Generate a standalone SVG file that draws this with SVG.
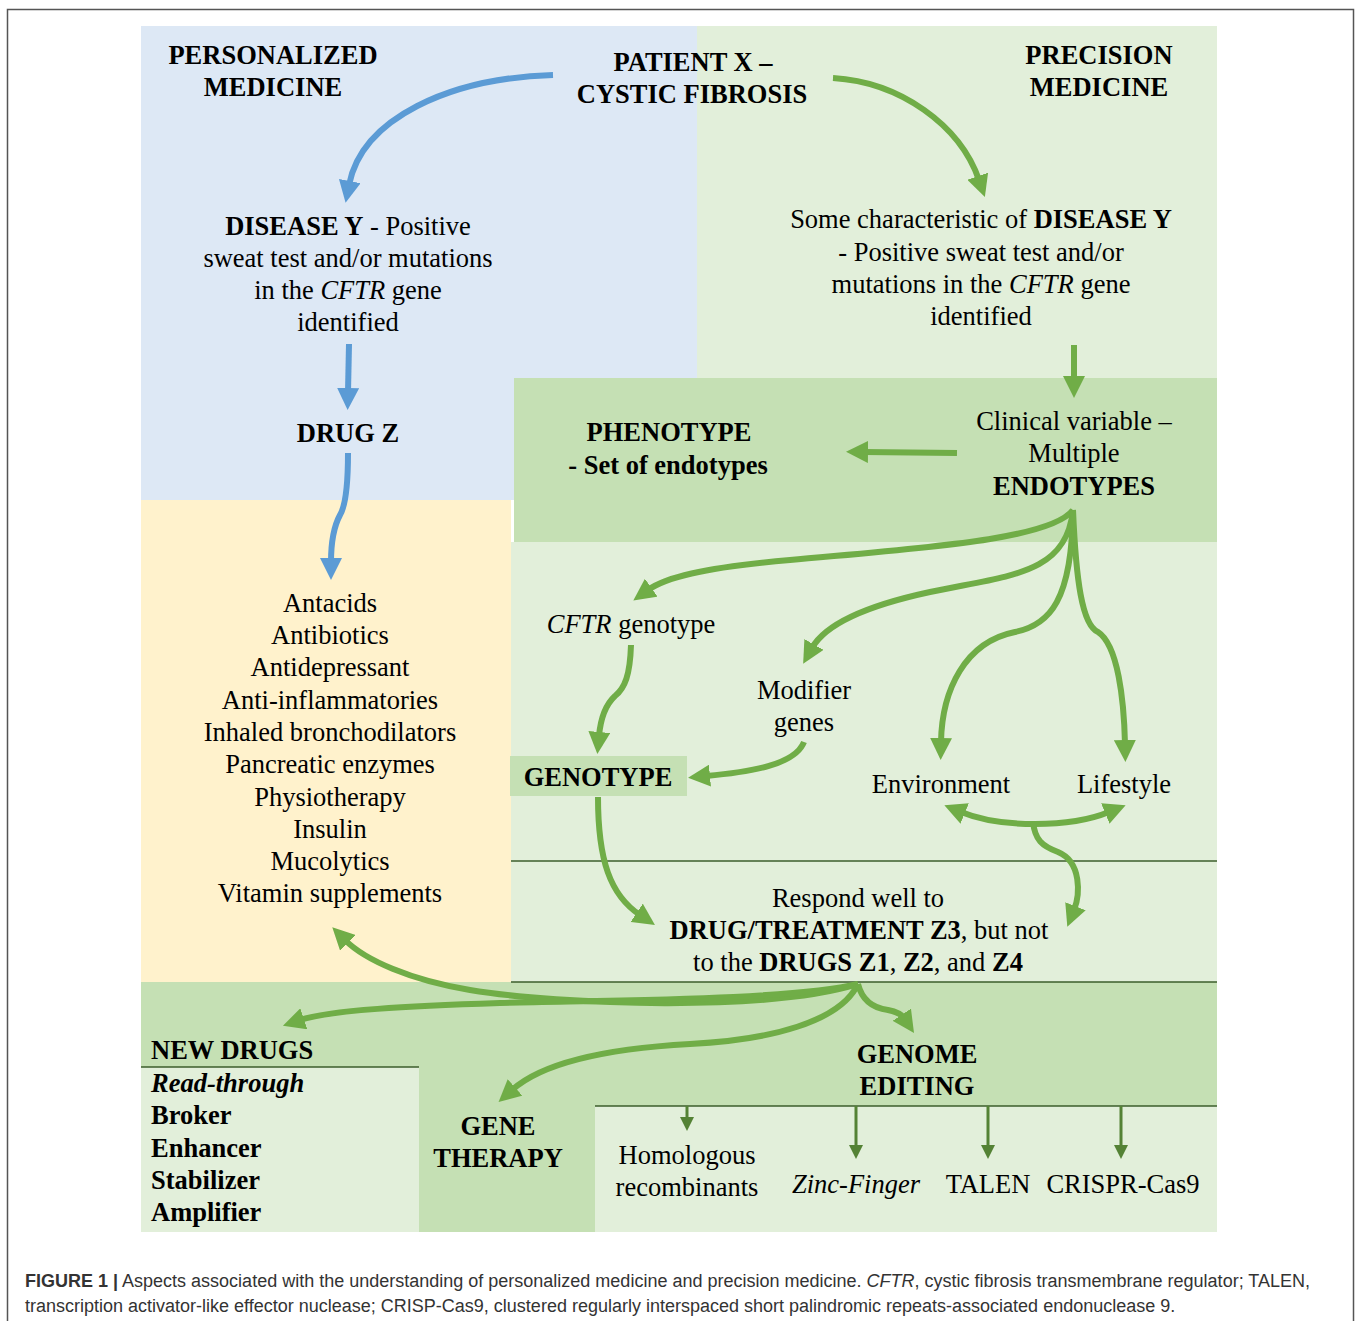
<svg xmlns="http://www.w3.org/2000/svg" width="1357" height="1321" viewBox="0 0 1357 1321">
<defs>
<style>
text{font-family:"Liberation Serif","Times New Roman",serif;font-size:26.5px;fill:#000}
.c{text-anchor:middle}
.b{font-weight:bold}
.i{font-style:italic}
.cap{font-family:"Liberation Sans",Arial,sans-serif;font-size:18px;fill:#333}
.blue{fill:none;stroke:#5B9BD5;stroke-width:6}
.grn{fill:none;stroke:#70AD47;stroke-width:6}
.grn2{fill:none;stroke:#548235;stroke-width:3}
.sep{stroke:#3B5E2B;stroke-width:1.5}
</style>
<marker id="ab" viewBox="0 0 22 22" markerUnits="userSpaceOnUse" markerWidth="22" markerHeight="22" refX="4" refY="11" orient="auto"><path d="M0,0 L22,11 L0,22 z" fill="#5B9BD5"/></marker>
<marker id="ag" viewBox="0 0 22 22" markerUnits="userSpaceOnUse" markerWidth="22" markerHeight="22" refX="4" refY="11" orient="auto-start-reverse"><path d="M0,0 L22,11 L0,22 z" fill="#70AD47"/></marker>
<marker id="ad" viewBox="0 0 14 14" markerUnits="userSpaceOnUse" markerWidth="14" markerHeight="14" refX="2" refY="7" orient="auto"><path d="M0,0 L14,7 L0,14 z" fill="#548235"/></marker>
</defs>
<rect x="0" y="0" width="1357" height="1321" fill="#fff"/>
<rect x="7.5" y="9.5" width="1346" height="1340" fill="none" stroke="#555" stroke-width="1.5"/>

<g id="panels">
<rect x="141" y="26" width="556" height="474" fill="#DDE8F5"/>
<rect x="697" y="26" width="520" height="352" fill="#E2EFDA"/>
<rect x="514" y="378" width="703" height="164" fill="#C5E0B4"/>
<rect x="511" y="542" width="706" height="440" fill="#E2EFDA"/>
<rect x="141" y="500" width="370" height="482" fill="#FFF2CC"/>
<rect x="141" y="982" width="1076" height="250" fill="#C5E0B4"/>
<rect x="141" y="1067" width="278" height="165" fill="#E2EFDA"/>
<rect x="595" y="1106" width="622" height="126" fill="#E2EFDA"/>
<line class="sep" x1="511" y1="861" x2="1217" y2="861"/>
<line class="sep" x1="511" y1="982" x2="1217" y2="982"/>
<line class="sep" x1="141" y1="1067" x2="419" y2="1067"/>
<line class="sep" x1="595" y1="1106" x2="1217" y2="1106"/>
</g>

<g id="n-personalized"><text class="c b" x="273" y="64">PERSONALIZED</text><text class="c b" x="273" y="96">MEDICINE</text></g>
<g id="n-patient"><text class="c b" x="693" y="71">PATIENT X –</text><text class="c b" x="692" y="103">CYSTIC FIBROSIS</text></g>
<g id="n-precision"><text class="c b" x="1099" y="64">PRECISION</text><text class="c b" x="1099" y="96">MEDICINE</text></g>
<g id="n-disease-left">
<text class="c" x="348" y="235"><tspan class="b">DISEASE Y</tspan> - Positive</text>
<text class="c" x="348" y="267">sweat test and/or mutations</text>
<text class="c" x="348" y="299">in the <tspan class="i">CFTR</tspan> gene</text>
<text class="c" x="348" y="331">identified</text>
</g>
<g id="n-disease-right">
<text class="c" x="981" y="228">Some characteristic of <tspan class="b">DISEASE Y</tspan></text>
<text class="c" x="981" y="261">- Positive sweat test and/or</text>
<text class="c" x="981" y="293">mutations  in the <tspan class="i">CFTR</tspan> gene</text>
<text class="c" x="981" y="325">identified</text>
</g>
<g id="n-drugz"><text class="c b" x="348" y="442">DRUG Z</text></g>
<g id="n-phenotype"><text class="c b" x="669" y="441">PHENOTYPE</text><text class="c b" x="668" y="474">- Set of endotypes</text></g>
<g id="n-endotypes"><text class="c" x="1074" y="430">Clinical variable –</text><text class="c" x="1074" y="462">Multiple</text><text class="c b" x="1074" y="495">ENDOTYPES</text></g>
<g id="n-cftr"><text class="c" x="631" y="633"><tspan class="i">CFTR</tspan> genotype</text></g>
<g id="n-modifier"><text class="c" x="804" y="699">Modifier</text><text class="c" x="804" y="731">genes</text></g>
<g id="n-genotype"><rect x="510" y="756" width="177" height="40" fill="#C5E0B4"/><text class="c b" x="598" y="786">GENOTYPE</text></g>
<g id="n-environment"><text class="c" x="941" y="793">Environment</text></g>
<g id="n-lifestyle"><text class="c" x="1124" y="793">Lifestyle</text></g>
<g id="n-respond">
<text class="c" x="858" y="907">Respond well to</text>
<text class="c" x="859" y="939"><tspan class="b">DRUG/TREATMENT Z3</tspan>, but not</text>
<text class="c" x="858" y="971">to the <tspan class="b">DRUGS Z1</tspan>, <tspan class="b">Z2</tspan>, and <tspan class="b">Z4</tspan></text>
</g>
<g id="n-treatments">
<text class="c" x="330" y="612">Antacids</text>
<text class="c" x="330" y="644">Antibiotics</text>
<text class="c" x="330" y="676">Antidepressant</text>
<text class="c" x="330" y="709">Anti-inflammatories</text>
<text class="c" x="330" y="741">Inhaled bronchodilators</text>
<text class="c" x="330" y="773">Pancreatic enzymes</text>
<text class="c" x="330" y="806">Physiotherapy</text>
<text class="c" x="330" y="838">Insulin</text>
<text class="c" x="330" y="870">Mucolytics</text>
<text class="c" x="330" y="902">Vitamin supplements</text>
</g>
<g id="n-newdrugs">
<text class="b" x="151" y="1059">NEW DRUGS</text>
<text class="b i" x="151" y="1092">Read-through</text>
<text class="b" x="151" y="1124">Broker</text>
<text class="b" x="151" y="1157">Enhancer</text>
<text class="b" x="151" y="1189">Stabilizer</text>
<text class="b" x="151" y="1221">Amplifier</text>
</g>
<g id="n-genetherapy"><text class="c b" x="498" y="1135">GENE</text><text class="c b" x="498" y="1167">THERAPY</text></g>
<g id="n-genome"><text class="c b" x="917" y="1063">GENOME</text><text class="c b" x="917" y="1095">EDITING</text></g>
<g id="n-homologous"><text class="c" x="687" y="1164">Homologous</text><text class="c" x="687" y="1196">recombinants</text></g>
<g id="n-zinc"><text class="c i" x="856" y="1193">Zinc-Finger</text></g>
<g id="n-talen"><text class="c" x="988" y="1193">TALEN</text></g>
<g id="n-crispr"><text class="c" x="1123" y="1193">CRISPR-Cas9</text></g>

<g id="connectors">
<path class="blue" marker-end="url(#ab)" d="M553,75 C450,78 362,118 349,185"/>
<path class="blue" marker-end="url(#ab)" d="M349,344 L348,392"/>
<path class="blue" marker-end="url(#ab)" d="M348,453 C348,480 346,505 340,515 C333,528 331,545 331,562"/>
<path class="grn" marker-end="url(#ag)" d="M833,78 C900,82 960,125 979,180"/>
<path class="grn" marker-end="url(#ag)" d="M1074,345 L1074,380"/>
<path class="grn" marker-end="url(#ag)" d="M957,453 L864,452"/>
<path class="grn" marker-end="url(#ag)" d="M1073,510 C1050,540 920,548 790,560 C700,568 665,578 648,590"/>
<path class="grn" marker-end="url(#ag)" d="M1073,510 C1066,575 1010,575 930,592 C865,606 825,625 812,648"/>
<path class="grn" marker-end="url(#ag)" d="M1073,510 C1072,600 1050,625 1015,632 C965,642 942,690 941,742"/>
<path class="grn" marker-end="url(#ag)" d="M1073,510 C1076,580 1082,625 1098,632 C1118,645 1124,700 1125,744"/>
<path class="grn" marker-end="url(#ag)" d="M631,645 C630,675 625,688 615,696 C603,707 600,725 599,736"/>
<path class="grn" marker-end="url(#ag)" d="M804,742 C795,765 750,772 706,776"/>
<path class="grn" marker-end="url(#ag)" d="M598,797 C598,860 610,895 640,915"/>
<path class="grn" marker-start="url(#ag)" marker-end="url(#ag)" d="M961,812 C1000,828 1070,828 1109,812"/>
<path class="grn" marker-end="url(#ag)" d="M1033,822 C1035,840 1042,846 1058,852 C1082,862 1080,895 1074,910"/>
<path class="grn" marker-end="url(#ag)" d="M858,984 C770,1012 560,1005 470,990 C410,980 365,960 345,940"/>
<path class="grn" marker-end="url(#ag)" d="M858,984 C790,1000 620,1000 500,1003 C410,1006 330,1010 300,1020"/>
<path class="grn" marker-end="url(#ag)" d="M858,984 C840,1022 770,1040 690,1044 C600,1049 540,1065 512,1090"/>
<path class="grn" marker-end="url(#ag)" d="M858,984 C862,1000 872,1008 888,1010 C898,1012 902,1015 904,1018"/>
<path class="grn2" marker-end="url(#ad)" d="M687,1106 L687,1119"/>
<path class="grn2" marker-end="url(#ad)" d="M856,1106 L856,1147"/>
<path class="grn2" marker-end="url(#ad)" d="M988,1106 L988,1147"/>
<path class="grn2" marker-end="url(#ad)" d="M1121,1106 L1121,1147"/>
</g>

<g id="caption">
<text class="cap" x="25" y="1287"><tspan font-weight="bold">FIGURE 1 |</tspan> Aspects associated with the understanding of personalized medicine and precision medicine. <tspan font-style="italic">CFTR</tspan>, cystic fibrosis transmembrane regulator; TALEN,</text>
<text class="cap" x="25" y="1312">transcription activator-like effector nuclease; CRISP-Cas9, clustered regularly interspaced short palindromic repeats-associated endonuclease 9.</text>
</g>
</svg>
